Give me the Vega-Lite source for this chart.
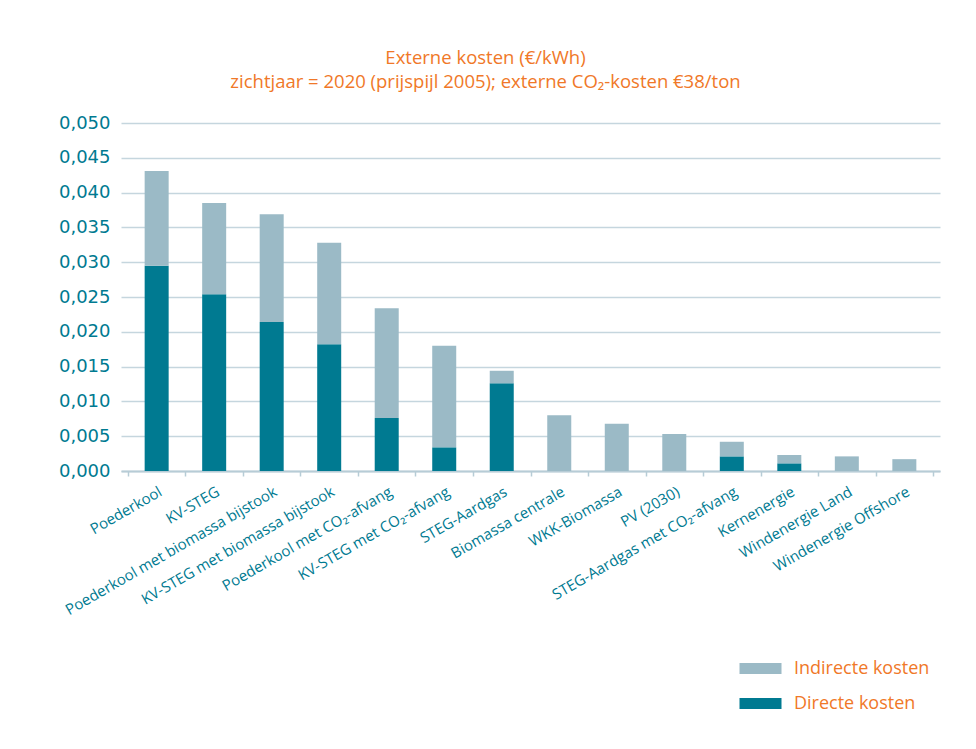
{
  "$schema": "https://vega.github.io/schema/vega-lite/v6.json",
  "width": 819,
  "height": 348,
  "autosize": {"type": "none"},
  "padding": {"left": 121, "top": 123, "right": 36, "bottom": 278},
  "background": "white",
  "title": {
    "text": ["Externe kosten (€/kWh)", "zichtjaar = 2020 (prijspijl 2005); externe CO₂-kosten €38/ton"],
    "anchor": "middle",
    "dx": -45,
    "offset": 23,
    "font": "Open Sans",
    "fontSize": 18.5,
    "fontWeight": "normal",
    "lineHeight": 24,
    "color": "#F07828"
  },
  "data": {
    "values": [
      {"bron": "Poederkool", "type": "Directe kosten", "waarde": 0.0295},
      {"bron": "Poederkool", "type": "Indirecte kosten", "waarde": 0.0136},
      {"bron": "KV-STEG", "type": "Directe kosten", "waarde": 0.0254},
      {"bron": "KV-STEG", "type": "Indirecte kosten", "waarde": 0.0131},
      {"bron": "Poederkool met biomassa bijstook", "type": "Directe kosten", "waarde": 0.0214},
      {"bron": "Poederkool met biomassa bijstook", "type": "Indirecte kosten", "waarde": 0.0155},
      {"bron": "KV-STEG met biomassa bijstook", "type": "Directe kosten", "waarde": 0.0182},
      {"bron": "KV-STEG met biomassa bijstook", "type": "Indirecte kosten", "waarde": 0.0146},
      {"bron": "Poederkool met CO₂-afvang", "type": "Directe kosten", "waarde": 0.0076},
      {"bron": "Poederkool met CO₂-afvang", "type": "Indirecte kosten", "waarde": 0.0158},
      {"bron": "KV-STEG met CO₂-afvang", "type": "Directe kosten", "waarde": 0.0034},
      {"bron": "KV-STEG met CO₂-afvang", "type": "Indirecte kosten", "waarde": 0.0146},
      {"bron": "STEG-Aardgas", "type": "Directe kosten", "waarde": 0.0126},
      {"bron": "STEG-Aardgas", "type": "Indirecte kosten", "waarde": 0.0018},
      {"bron": "Biomassa centrale", "type": "Directe kosten", "waarde": 0},
      {"bron": "Biomassa centrale", "type": "Indirecte kosten", "waarde": 0.0080},
      {"bron": "WKK-Biomassa", "type": "Directe kosten", "waarde": 0},
      {"bron": "WKK-Biomassa", "type": "Indirecte kosten", "waarde": 0.0068},
      {"bron": "PV (2030)", "type": "Directe kosten", "waarde": 0},
      {"bron": "PV (2030)", "type": "Indirecte kosten", "waarde": 0.0053},
      {"bron": "STEG-Aardgas met CO₂-afvang", "type": "Directe kosten", "waarde": 0.0021},
      {"bron": "STEG-Aardgas met CO₂-afvang", "type": "Indirecte kosten", "waarde": 0.0021},
      {"bron": "Kernenergie", "type": "Directe kosten", "waarde": 0.0011},
      {"bron": "Kernenergie", "type": "Indirecte kosten", "waarde": 0.0012},
      {"bron": "Windenergie Land", "type": "Directe kosten", "waarde": 0},
      {"bron": "Windenergie Land", "type": "Indirecte kosten", "waarde": 0.0021},
      {"bron": "Windenergie Offshore", "type": "Directe kosten", "waarde": 0},
      {"bron": "Windenergie Offshore", "type": "Indirecte kosten", "waarde": 0.0017}
    ]
  },
  "mark": {"type": "bar", "width": 24},
  "encoding": {
    "x": {
      "field": "bron",
      "type": "nominal",
      "sort": null,
      "scale": {"paddingInner": 0, "paddingOuter": 0.12},
      "axis": {
        "title": null,
        "labelAngle": -30,
        "labelAlign": "right",
        "labelBaseline": "top",
        "labelOffset": 0,
        "labelPadding": 8,
        "labelFont": "Open Sans",
        "labelFontSize": 15,
        "labelFontWeight": 500,
        "labelColor": "#007A91",
        "labelLimit": 400,
        "tickBand": "extent",
        "tickColor": "#B7CCD6",
        "tickSize": 5,
        "tickWidth": 1.5,
        "domainColor": "#B7CCD6",
        "domainWidth": 2,
        "grid": false
      }
    },
    "y": {
      "field": "waarde",
      "type": "quantitative",
      "stack": "zero",
      "scale": {"domain": [0, 0.05], "nice": false},
      "axis": {
        "title": null,
        "values": [0, 0.005, 0.01, 0.015, 0.02, 0.025, 0.03, 0.035, 0.04, 0.045, 0.05],
        "format": ".3f",
        "labelFont": "DejaVu Sans",
        "labelFontSize": 18,
        "labelColor": "#007A91",
        "labelPadding": 11,
        "ticks": false,
        "domain": false,
        "grid": true,
        "gridColor": "#C5D6DE",
        "gridWidth": 1.5
      }
    },
    "color": {
      "field": "type",
      "type": "nominal",
      "scale": {"domain": ["Indirecte kosten", "Directe kosten"], "range": ["#9BBAC6", "#007A91"]},
      "legend": {
        "title": null,
        "orient": "none",
        "legendX": 629,
        "legendY": 535,
        "symbolType": "M-2,-0.52H2V0.52H-2Z",
        "symbolSize": 441,
        "symbolStrokeWidth": 0,
        "labelOffset": 23,
        "labelFont": "Open Sans",
        "labelFontSize": 18,
        "labelColor": "#F07828",
        "rowPadding": 15
      }
    },
    "order": {"field": "type", "sort": "ascending"}
  },
  "config": {
    "locale": {"number": {"decimal": ",", "thousands": ".", "grouping": [3], "currency": ["€", ""]}},
    "view": {"stroke": null}
  }
}
